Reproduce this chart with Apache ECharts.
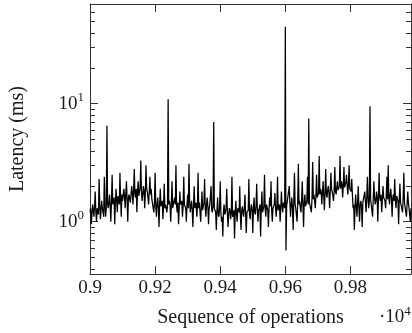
<!DOCTYPE html>
<html><head><meta charset="utf-8">
<script src="https://cdn.jsdelivr.net/npm/echarts@6/dist/echarts.min.js"></script>
<style>html,body{margin:0;padding:0;background:#fff}#c{width:412px;height:333px}</style>
</head><body><div id="c"></div>
<script>
// Sequence of operations (x): start and step between samples
const opStart = 9000;
const opStep = 2;
const xMin = 9000, xMax = 9986, xInterval = 200;
// Latency (ms): samples at even positions (0, 2, 4, ...)
const latencyEven = [
 1.2, 0.95, 1.4, 1.1, 1.8, 1.0, 1.3, 2.3, 1.05, 1.5, 1.2, 2.4, 1.1,
 6.5,
 1.3, 1.7, 1.0, 2.5, 1.4, 0.95, 1.9, 1.2, 1.6, 2.6, 1.1, 1.5, 1.9, 1.3, 2.2, 1.0, 1.7, 1.45,
 2.0, 1.4, 2.8, 1.6, 1.2, 2.2, 1.7, 3.3, 1.5, 2.0, 1.3, 3.0, 1.8, 1.4, 2.4, 1.9, 1.6,
 1.2, 2.6, 1.1, 1.6, 0.9, 1.9, 1.3, 1.05, 2.1, 1.4, 1.2,
 10.9,
 1.5, 1.0, 2.2, 1.3, 1.6, 3.0, 1.2, 0.95, 1.8, 1.4, 1.1, 2.4, 1.35,
 1.0, 1.7, 3.1, 1.2, 1.5, 0.9, 2.0, 1.3, 1.1, 2.6, 1.45, 1.0, 1.8, 1.25, 2.3, 1.1, 1.6, 0.95, 1.4, 2.0, 1.2,
 7.0,
 1.3, 0.85, 1.6, 1.1, 2.2, 1.0, 0.75, 1.4, 1.2, 1.9, 0.9, 1.3, 1.05, 2.4, 1.15, 0.72, 1.5, 1.0, 1.25, 2.0, 0.85, 1.35, 1.1, 1.7, 0.8, 1.2, 2.3, 1.05,
 1.4, 0.8, 1.6, 1.15, 2.1, 1.0, 1.3, 0.75, 1.8, 1.2, 2.5, 1.1, 1.4, 0.9, 1.6, 2.2, 1.0, 1.35, 1.75, 1.1, 2.4,
 1.3, 1.0, 1.8, 1.2, 1.5,
 45, 1.35,
 1.4, 2.0, 1.1, 1.6, 0.85, 2.6, 1.3, 1.0, 3.1, 1.5, 1.2, 2.2, 0.9, 1.7, 1.3, 2.4,
 7.5,
 1.4, 1.2, 3.2, 1.7, 1.3, 2.5, 1.6, 3.6, 1.9, 1.4, 2.2, 1.25, 2.8, 1.6, 2.0, 1.3, 2.6, 1.8, 1.5, 2.9, 1.7, 2.2,
 1.8, 3.6, 2.2, 1.6, 2.9, 2.0, 2.5, 1.7, 3.0, 1.9, 2.3,
 1.3, 0.85, 1.7, 1.1, 2.0, 1.0, 1.5, 0.9, 1.4,
 1.8, 1.2, 2.4, 1.3,
 9.5,
 1.6, 1.1, 2.2, 1.4, 1.8, 1.0, 2.6, 1.5, 1.2, 2.0, 1.6, 1.3, 2.4, 3.0, 1.4, 1.9, 1.1, 1.7, 2.3, 1.3, 1.6, 0.95, 2.1, 1.4, 1.2, 2.6, 1.5, 1.1, 1.8, 1.3, 1.0
];
// Latency (ms): samples at odd positions (1, 3, 5, ...), the dense core of the band
const latencyOdd = [
 1.3, 1.15, 1.25, 1.35, 1.2, 1.3, 1.15, 1.4, 1.25, 1.3, 1.1, 1.35, 1.3,
 1.4,
 1.45, 1.35, 1.5, 1.4, 1.6, 1.45, 1.5, 1.65, 1.4, 1.55, 1.7, 1.45, 1.6, 1.75, 1.5, 1.6, 1.55, 1.7,
 1.75, 1.85, 1.7, 1.9, 1.8, 1.65, 1.95, 1.8, 1.7, 1.85, 1.75, 1.9, 1.6, 1.8, 1.7, 1.55, 1.5,
 1.45, 1.35, 1.4, 1.3, 1.45, 1.35, 1.5, 1.4, 1.3, 1.45, 1.35,
 1.4,
 1.35, 1.45, 1.3, 1.5, 1.4, 1.35, 1.45, 1.3, 1.4, 1.5, 1.35, 1.4, 1.3,
 1.4, 1.3, 1.5, 1.35, 1.25, 1.4, 1.3, 1.45, 1.35, 1.3, 1.4, 1.35, 1.25, 1.45, 1.3, 1.4, 1.35, 1.3, 1.4, 1.25, 1.35,
 1.3,
 1.2, 1.25, 1.15, 1.3, 1.2, 1.1, 1.25, 1.15, 1.3, 1.2, 1.15, 1.25, 1.2, 1.1, 1.25, 1.2, 1.15, 1.3, 1.2, 1.1, 1.25, 1.2, 1.3, 1.15, 1.2, 1.25, 1.15, 1.3,
 1.25, 1.3, 1.2, 1.35, 1.3, 1.25, 1.4, 1.3, 1.2, 1.35, 1.3, 1.4, 1.25, 1.3, 1.35, 1.25, 1.3, 1.4, 1.3, 1.35, 1.25,
 1.4, 1.3, 1.35, 1.45, 1.3,
 0.57, 1.3,
 1.35, 1.45, 1.4, 1.3, 1.5, 1.4, 1.35, 1.45, 1.4, 1.3, 1.5, 1.4, 1.45, 1.35, 1.5, 1.4,
 1.45,
 1.5, 1.6, 1.55, 1.65, 1.7, 1.6, 1.75, 1.7, 1.8, 1.75, 1.65, 1.8, 1.7, 1.85, 1.75, 1.8, 1.9, 1.75, 1.85, 1.8, 1.95, 1.85,
 2.0, 1.9, 2.1, 2.0, 1.95, 2.15, 2.0, 2.1, 1.9, 1.8, 1.7,
 1.4, 1.3, 1.35, 1.45, 1.3, 1.4, 1.35, 1.45, 1.5,
 1.5, 1.55, 1.6, 1.5,
 1.55,
 1.5, 1.55, 1.6, 1.5, 1.65, 1.55, 1.6, 1.7, 1.55, 1.6, 1.5, 1.65, 1.55, 1.6, 1.7, 1.55, 1.6, 1.5, 1.55, 1.65, 1.5, 1.55, 1.45, 1.5, 1.6, 1.45, 1.5, 1.4, 1.45, 1.35, 1.3
];
const yMin = 0.36, yMax = 70;
const minorTickValues = [0.4,0.5,0.6,0.7,0.8,0.9,2,3,4,5,6,7,8,9,20,30,40,50,60];
const xTickLabels = ['0.9','0.92','0.94','0.96','0.98'];
const xTitle = 'Sequence of operations';
const yTitle = 'Latency (ms)';

const FONT = 'Liberation Serif';
const TXT = '#1a1a1a';
const AX = '#333';

const seriesData = [];
latencyEven.forEach((v, i) => {
  seriesData.push([opStart + (2 * i) * opStep, v]);
  if (i < latencyOdd.length) seriesData.push([opStart + (2 * i + 1) * opStep, latencyOdd[i]]);
});

function isPow10(v) { const l = Math.log10(v); return Math.abs(l - Math.round(l)) < 1e-6; }

const chart = echarts.init(document.getElementById('c'), null, {renderer: 'canvas'});
const xCommon = {
  type: 'value', min: xMin, max: xMax, interval: xInterval,
  axisLine: {show: true, onZero: false, lineStyle: {color: AX, width: 1}},
  axisTick: {show: true, inside: true, length: 8, lineStyle: {color: AX}},
  splitLine: {show: false}
};
const yCommon = {
  type: 'log', logBase: 10, min: yMin, max: yMax,
  axisLine: {show: true, onZero: false, lineStyle: {color: AX, width: 1}},
  axisTick: {show: true, inside: true, length: 8, lineStyle: {color: AX}},
  splitLine: {show: false}
};
chart.setOption({
  animation: false,
  grid: {left: 88, right: 1, top: 4, bottom: 57, containLabel: false},
  xAxis: [
    Object.assign({}, xCommon, {
      position: 'bottom',
      name: xTitle, nameLocation: 'middle', nameGap: 34,
      nameTextStyle: {fontFamily: FONT, fontSize: 20, color: TXT},
      axisLabel: {
        show: true, margin: 5, fontFamily: FONT, fontSize: 19, color: TXT,
        showMaxLabel: false,
        formatter: v => {
          const k = Math.round((v - xMin) / xInterval);
          return (Math.abs(v - (xMin + k * xInterval)) < 1e-6 && xTickLabels[k] !== undefined) ? xTickLabels[k] : '';
        }
      }
    }),
    Object.assign({}, xCommon, {position: 'top', axisLabel: {show: false}})
  ],
  yAxis: [
    Object.assign({}, yCommon, {
      position: 'left',
      name: yTitle, nameLocation: 'middle', nameGap: 62,
      nameTextStyle: {fontFamily: FONT, fontSize: 20, color: TXT},
      axisLabel: {
        show: true, margin: 6, fontFamily: FONT, fontSize: 19, color: TXT,
        formatter: v => isPow10(v) ? '{b|10}{s|' + Math.round(Math.log10(v)) + '}' : '',
        rich: {
          b: {fontFamily: FONT, fontSize: 19, lineHeight: 19, color: TXT, verticalAlign: 'bottom'},
          s: {fontFamily: FONT, fontSize: 13, lineHeight: 13, color: TXT, padding: [0, 0, 12, 0]}
        }
      }
    }),
    Object.assign({}, yCommon, {position: 'right', axisLabel: {show: false}})
  ],
  graphic: [{
    type: 'text', left: 379, top: 305,
    style: {
      text: '{b|·10}{s|4}', fill: TXT,
      rich: {
        b: {fontFamily: FONT, fontSize: 19, lineHeight: 19, fill: TXT, verticalAlign: 'bottom'},
        s: {fontFamily: FONT, fontSize: 13, lineHeight: 13, fill: TXT, padding: [0, 0, 12, 0]}
      }
    }
  }],
  series: [
    {
      type: 'line', xAxisIndex: 0, yAxisIndex: 0,
      data: seriesData, showSymbol: false, symbol: 'none', sampling: null,
      lineStyle: {color: '#000', width: 1.25}, z: 3
    },
    {
      type: 'custom', xAxisIndex: 0, yAxisIndex: 0, silent: true, clip: false,
      data: minorTickValues.map(v => [xMin, v]),
      renderItem: (params, api) => {
        const cs = params.coordSys;
        const p = api.coord([xMin, api.value(1)]);
        const y = Math.round(p[1]) + 0.5;
        const st = {stroke: AX, lineWidth: 1};
        return {type: 'group', children: [
          {type: 'line', shape: {x1: cs.x, y1: y, x2: cs.x + 5, y2: y}, style: st},
          {type: 'line', shape: {x1: cs.x + cs.width, y1: y, x2: cs.x + cs.width - 5, y2: y}, style: st}
        ]};
      },
      z: 4
    }
  ]
});
</script></body></html>
